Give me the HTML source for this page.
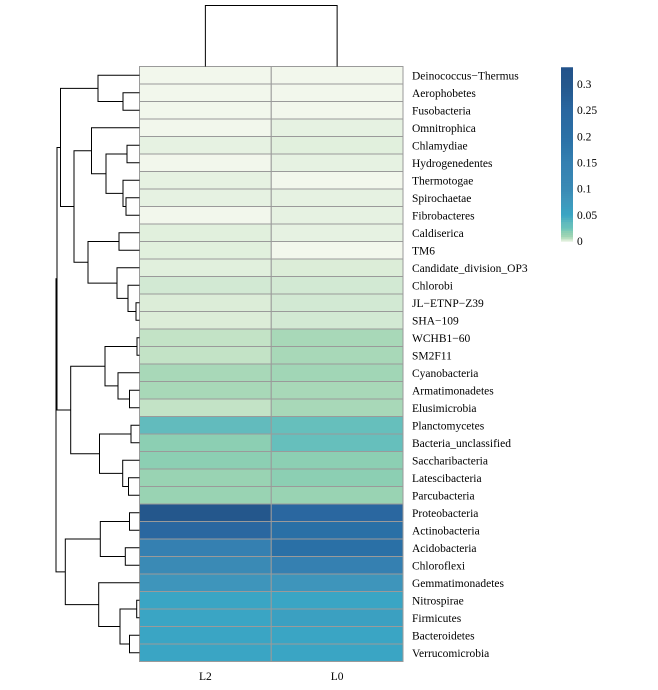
<!DOCTYPE html>
<html><head><meta charset="utf-8"><style>
body{margin:0;background:#fff}
svg text{font-family:"Liberation Serif",serif;font-size:11.5px;fill:#000}
</style></head><body>
<svg id="chart" width="658" height="685" xmlns="http://www.w3.org/2000/svg"></svg>
<script>
const categories=["Deinococcus\u2212Thermus","Aerophobetes","Fusobacteria","Omnitrophica","Chlamydiae","Hydrogenedentes","Thermotogae","Spirochaetae","Fibrobacteres","Caldiserica","TM6","Candidate_division_OP3","Chlorobi","JL\u2212ETNP\u2212Z39","SHA\u2212109","WCHB1\u221260","SM2F11","Cyanobacteria","Armatimonadetes","Elusimicrobia","Planctomycetes","Bacteria_unclassified","Saccharibacteria","Latescibacteria","Parcubacteria","Proteobacteria","Actinobacteria","Acidobacteria","Chloroflexi","Gemmatimonadetes","Nitrospirae","Firmicutes","Bacteroidetes","Verrucomicrobia"];
const samples=["L2","L0"];
const valuesL2=[0,0,0,0,0.001,0,0.001,0.001,0,0.0015,0.0015,0.0015,0.003,0.002,0.002,0.005,0.005,0.008,0.008,0.005,0.035,0.018,0.018,0.012,0.012,0.3,0.25,0.15,0.1,0.08,0.05,0.05,0.05,0.05];
const valuesL0=[0,0,0,0.001,0.0015,0.001,0,0.001,0.001,0.001,0,0.002,0.003,0.003,0.003,0.008,0.008,0.01,0.008,0.008,0.03,0.03,0.018,0.018,0.012,0.25,0.2,0.2,0.15,0.08,0.05,0.06,0.05,0.05];
const legendTicks=[0,0.05,0.1,0.15,0.2,0.25,0.3];
const stops=[[0,"#f2f7ec"],[0.001,"#e6f2e2"],[0.002,"#dcedd8"],[0.003,"#d2e9d3"],[0.005,"#c3e3c6"],[0.008,"#a8d8b8"],[0.012,"#99d3b3"],[0.018,"#8ccfb3"],[0.025,"#6ac3bb"],[0.035,"#62bbbd"],[0.05,"#3aa5c4"],[0.08,"#3e95bb"],[0.1,"#3a8ab5"],[0.15,"#3580b1"],[0.2,"#2a70a6"],[0.25,"#2a67a0"],[0.3,"#24578c"],[0.34,"#22518a"]];
function hex(c){return [1,3,5].map(i=>parseInt(c.substr(i,2),16));}
function color(v){
  for(let i=1;i<stops.length;i++){if(v<=stops[i][0]){const a=stops[i-1],b=stops[i];const t=(v-a[0])/(b[0]-a[0]);const A=hex(a[1]),B=hex(b[1]);return "rgb("+A.map((x,k)=>Math.round(x+(B[k]-x)*t)).join(",")+")";}}
  return stops[stops.length-1][1];
}
const svg=document.getElementById('chart');const NS="http://www.w3.org/2000/svg";
function mk(t,a,p){const e=document.createElementNS(NS,t);for(const k in a)e.setAttribute(k,a[k]);(p||svg).appendChild(e);return e;}
const X0=139.5,X1=403,topY=66.5,rh=17.5;const cw=(X1-X0)/samples.length;
const rowY=i=>topY+rh*i;
const colX=j=>X0+cw*j;
const series=[valuesL2,valuesL0];
series.forEach((vals,j)=>vals.forEach((v,i)=>{
  const r=mk('rect',{x:colX(j),y:rowY(i),width:cw,height:rh,fill:color(v),stroke:"#9a9a9a","stroke-width":1});
  
  
}));
categories.forEach((c,i)=>{
  const t=mk('text',{x:412,y:rowY(i)+rh/2+4});t.textContent=c;
  
  
});
samples.forEach((s,j)=>{
  const t=mk('text',{x:colX(j)+cw/2,y:680,"text-anchor":"middle"});t.textContent=s;
  
  
});
function Lf(i){return {leaf:i};}
function Nd(a,b,x){return {a:a,b:b,x:x};}
const gA=Nd(Lf(0),Nd(Lf(1),Lf(2),123),98);
const gB=Nd(Lf(3),Nd(Nd(Lf(4),Lf(5),127),Nd(Lf(6),Nd(Lf(7),Lf(8),126),123),106),91.5);
const gC=Nd(Nd(Lf(9),Lf(10),119),Nd(Lf(11),Nd(Lf(12),Nd(Lf(13),Lf(14),136),128),117),88);
const gTop=Nd(gA,Nd(gB,gC,74),60.5);
const gMid=Nd(Nd(Nd(Lf(15),Lf(16),137),Nd(Lf(17),Nd(Lf(18),Lf(19),129.5),118),105),Nd(Nd(Lf(20),Lf(21),131),Nd(Lf(22),Nd(Lf(23),Lf(24),128.5),122.7),99.5),70.7);
const gBot=Nd(Nd(Nd(Lf(25),Lf(26),129.5),Nd(Lf(27),Lf(28),125.3),100.3),Nd(Lf(29),Nd(Nd(Lf(30),Lf(31),136.7),Nd(Lf(32),Lf(33),129.5),120),98.7),65.3);
const gRoot=Nd(Nd(gTop,gMid,57),gBot,56);
const dg=mk('g',{stroke:"#000","stroke-width":1,fill:"none"});


function draw(nd){
  if(nd.leaf!==undefined)return {x:X0,y:rowY(nd.leaf)+rh/2};
  const p=draw(nd.a),q=draw(nd.b);
  mk('path',{d:`M${p.x},${p.y}H${nd.x}V${q.y}H${q.x}`},dg);
  return {x:nd.x,y:(p.y+q.y)/2};
}
draw(gRoot);
const cd=mk('path',{d:`M${colX(0)+cw/2},${topY}V5.5H${colX(1)+cw/2}V${topY}`,stroke:"#000",fill:"none"});


const ly0=241,ly1=84;const ly=v=>ly0+(ly1-ly0)*v/0.3;
const lg=mk('g',{});


const vmax=0.332;const nSteps=80;
for(let k=0;k<nSteps;k++){const v0=vmax*k/nSteps,v1=vmax*(k+1)/nSteps;
  mk('rect',{x:561,y:ly(v1),width:12,height:ly(v0)-ly(v1)+0.6,fill:color((v0+v1)/2)},lg);}
legendTicks.forEach(v=>{const t=mk('text',{x:577,y:ly(v)+4},lg);t.textContent=String(v);
  
  });
</script>
</body></html>
